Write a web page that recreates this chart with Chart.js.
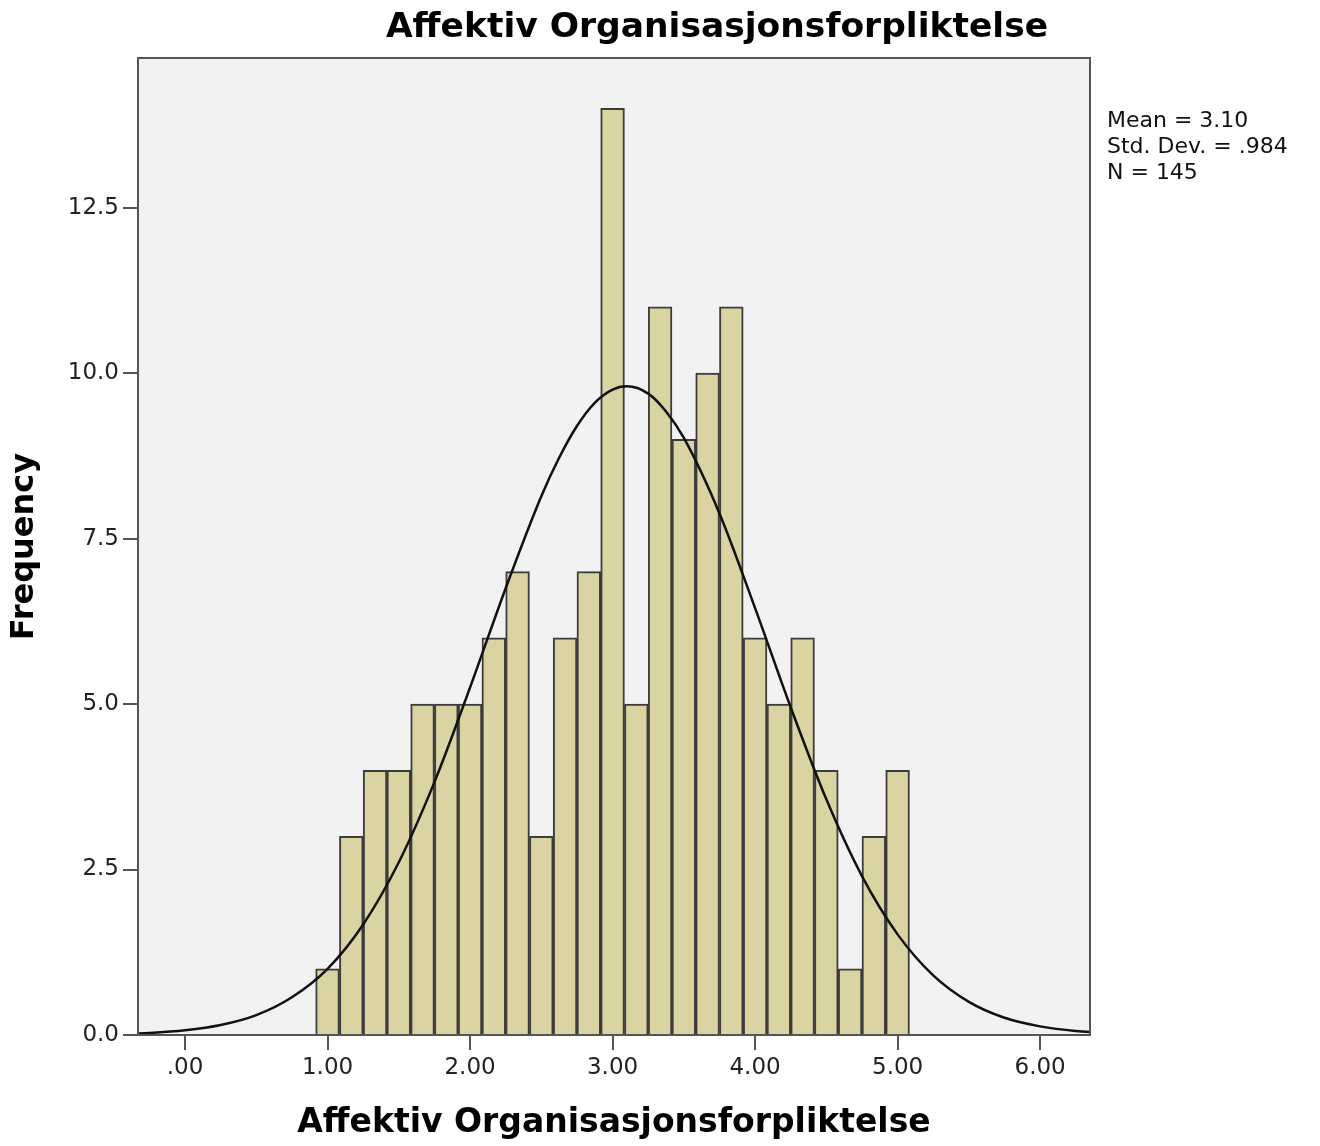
<!DOCTYPE html>
<html>
<head>
<meta charset="utf-8">
<script src="https://cdn.jsdelivr.net/npm/chart.js@4.4.1/dist/chart.umd.min.js"></script>
<style>
  html, body { margin: 0; padding: 0; background: #fff; }
  #wrap { position: relative; width: 1320px; height: 1146px; }
  #chart { position: absolute; left: 0; top: 0; }
  #title {
    position: absolute; left: 717px; top: 8px; transform: translateX(-50%);
    font: bold 34.5px "DejaVu Sans", sans-serif; line-height: 35px; color: #000; white-space: nowrap;
  }
  #stats {
    position: absolute; left: 1107px; top: 107px;
    font: 22px "DejaVu Sans", sans-serif; line-height: 26px; color: #111;
  }
</style>
</head>
<body>
<div id="wrap">
  <canvas id="chart" width="1320" height="1146"></canvas>
  <div id="title">Affektiv Organisasjonsforpliktelse</div>
  <div id="stats">Mean = 3.10<br>Std. Dev. = .984<br>N = 145</div>
</div>
<script>
// ── DATA ─────────────────────────────────────────
// bin midpoints (bin width 1/6)
const binCenters = [1.0000, 1.1667, 1.3333, 1.5000, 1.6667, 1.8333, 2.0000, 2.1667,
                    2.3333, 2.5000, 2.6667, 2.8333, 3.0000, 3.1667, 3.3333, 3.5000,
                    3.6667, 3.8333, 4.0000, 4.1667, 4.3333, 4.5000, 4.6667, 4.8333, 5.0000];
const frequencies = [1, 3, 4, 4, 5, 5, 5, 6, 7, 3, 6, 7, 14, 5, 11, 9, 10, 11, 6, 5, 6, 4, 1, 3, 4];

// normal curve
const curveX = [-0.50, -0.25, 0.00, 0.25, 0.50, 0.75, 1.00, 1.25, 1.50, 1.75, 2.00, 2.25,
                2.50, 2.625, 2.75, 2.875, 3.00, 3.10, 3.25, 3.375, 3.50, 3.75, 4.00, 4.25,
                4.50, 4.75, 5.00, 5.25, 5.50, 5.75, 6.00, 6.25, 6.50];
const curveY = [0.01, 0.03, 0.07, 0.15, 0.30, 0.57, 1.00, 1.67, 2.61, 3.82, 5.25, 6.75,
                8.14, 8.72, 9.20, 9.55, 9.75, 9.80, 9.69, 9.42, 9.02, 7.88, 6.45, 4.95,
                3.56, 2.40, 1.52, 0.90, 0.50, 0.26, 0.13, 0.06, 0.03];

const xTicks = [0, 1, 2, 3, 4, 5, 6];
const yTicks = [0, 2.5, 5, 7.5, 10, 12.5];

// ── STYLE ────────────────────────────────────────
const FONT     = "'DejaVu Sans', sans-serif";
const AXIS_CLR = "#555555";
const TICK_LEN = 15;

// plot background, frame and outside tick marks
const frame = {
  id: "frame",
  beforeDraw(chart) {
    const { ctx, chartArea: a } = chart;
    ctx.save();
    ctx.fillStyle = "#f2f2f2";
    ctx.fillRect(a.left, a.top, a.right - a.left, a.bottom - a.top);
    ctx.restore();
  },
  afterDraw(chart) {
    const { ctx, chartArea: a, scales } = chart;
    ctx.save();
    ctx.strokeStyle = AXIS_CLR;
    ctx.lineWidth = 2;
    ctx.strokeRect(a.left, a.top, a.right - a.left, a.bottom - a.top);
    ctx.beginPath();
    xTicks.forEach(v => {
      const px = Math.round(scales.x.getPixelForValue(v));
      ctx.moveTo(px, a.bottom);
      ctx.lineTo(px, a.bottom + TICK_LEN);
    });
    yTicks.forEach(v => {
      const py = Math.round(scales.y.getPixelForValue(v));
      ctx.moveTo(a.left, py);
      ctx.lineTo(a.left - TICK_LEN, py);
    });
    ctx.stroke();
    ctx.restore();
  },
};

new Chart(document.getElementById("chart"), {
  type: "bar",
  data: {
    datasets: [
      {
        type: "line",
        order: 0,
        data: curveX.map((x, i) => ({ x, y: curveY[i] })),
        borderColor: "#111",
        borderWidth: 2.5,
        pointRadius: 0,
        cubicInterpolationMode: "monotone",
        fill: false,
      },
      {
        type: "bar",
        order: 1,
        data: binCenters.map((x, i) => ({ x, y: frequencies[i] })),
        backgroundColor: "#dad4a3",
        borderColor: "#3c3c3c",
        borderWidth: 2,
        barPercentage: 1,
        categoryPercentage: 1,
      },
    ],
  },
  options: {
    responsive: false,
    devicePixelRatio: 1,
    animation: false,
    layout: { padding: { left: 0, top: 58, right: 230, bottom: 0 } },
    plugins: { legend: { display: false }, tooltip: { enabled: false } },
    scales: {
      x: {
        type: "linear",
        offset: false,
        min: -0.33,
        max: 6.35,
        afterFit: s => { s.height = 111; },
        afterBuildTicks: s => { s.ticks = xTicks.map(v => ({ value: v })); },
        grid: { display: false },
        border: { display: true, color: AXIS_CLR, width: 2 },
        ticks: {
          padding: 11,
          color: "#222",
          font: { family: FONT, size: 23 },
          maxRotation: 0,
          callback: v => (v === 0 ? ".00" : v.toFixed(2)),
        },
        title: {
          display: true,
          text: "Affektiv Organisasjonsforpliktelse",
          color: "#000",
          font: { family: FONT, size: 33, weight: "bold" },
          padding: { bottom: 3 },
        },
      },
      y: {
        min: 0,
        max: 14.76,
        afterFit: s => { s.width = 138; },
        afterBuildTicks: s => { s.ticks = yTicks.map(v => ({ value: v })); },
        grid: { display: false },
        border: { display: true, color: AXIS_CLR, width: 2 },
        ticks: {
          padding: 11,
          color: "#222",
          font: { family: FONT, size: 23 },
          callback: v => v.toFixed(1),
        },
        title: {
          display: true,
          text: "Frequency",
          color: "#000",
          font: { family: FONT, size: 32, weight: "bold" },
          padding: { top: 5 },
        },
      },
    },
  },
  plugins: [frame],
});
</script>
</body>
</html>
